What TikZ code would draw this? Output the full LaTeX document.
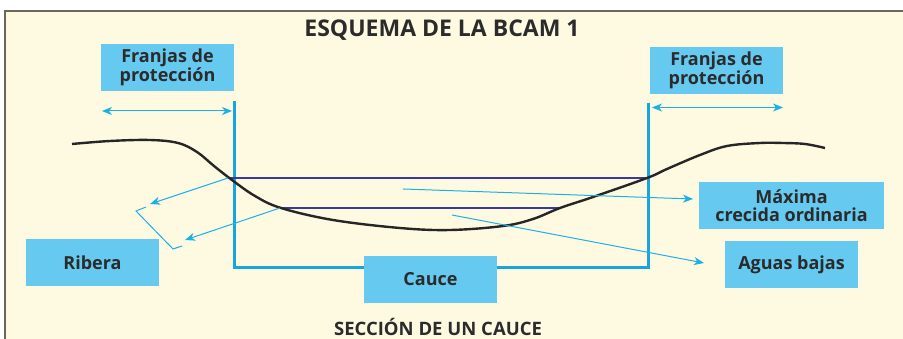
\documentclass[tikz,border=0pt]{standalone}
\usepackage{fontspec}
\setmainfont{Open Sans}
\usetikzlibrary{arrows.meta}
\definecolor{cream}{HTML}{FEFAE2}
\definecolor{framegray}{HTML}{6B6660}
\definecolor{boxblue}{HTML}{66C9F0}
\definecolor{cyanline}{HTML}{1BB1E4}
\definecolor{chanblue}{HTML}{17A6DC}
\definecolor{navyline}{HTML}{3A3A9C}
\definecolor{txt}{HTML}{2B2B2B}
\tikzset{
  labelbox/.style={fill=boxblue, minimum width=133pt, minimum height=47pt, inner sep=0pt,
    align=center, text=txt, font=\bfseries\fontsize{18}{18.5}\selectfont},
  pointer/.style={draw=cyanline, line width=1pt, -{Stealth[length=10pt,width=8pt,inset=3pt]}},
  span/.style={draw=cyanline, line width=1pt, {Stealth[length=10pt,width=8pt,inset=3pt]}-{Stealth[length=10pt,width=8pt,inset=3pt]}},
  channel/.style={draw=chanblue, line width=3pt},
  waterline/.style={draw=navyline, line width=1.2pt},
  bracket/.style={draw=cyanline, line width=1pt}
}
\begin{document}
\begin{tikzpicture}[x=1pt,y=-1pt]
\useasboundingbox (0,0) rectangle (903,339);
\fill[cream] (5,11) rectangle (903,339);
\draw[framegray, line width=2pt] (5,339) -- (5,11) -- (903,11);

\node[text=txt, font=\bfseries\fontsize{23}{26}\selectfont] (title) at (442,30) {ESQUEMA DE LA BCAM 1};
\node[text=txt, font=\bfseries\fontsize{18.5}{20}\selectfont] (foot) at (438,327) {SECCIÓN DE UN CAUCE};

% channel
\coordinate (cl) at (234,101);
\coordinate (cbl) at (234,268);
\coordinate (cbr) at (648,268);
\coordinate (cr) at (648,103);
\draw[channel] (cl) -- (cbl) -- (cbr) -- (cr);

% water lines
\coordinate (w1a) at (228,178);
\coordinate (w1b) at (648,178);
\coordinate (w2a) at (280,208);
\coordinate (w2b) at (560,208);
\draw[waterline] (w1a) -- (w1b);
\draw[waterline] (w2a) -- (w2b);

% ground
\draw[line width=2.4pt, draw=black!85] plot[smooth, tension=0.6] coordinates {
 (72,144) (110,141) (150,140) (178,143) (197,152) (214,166) (232,180) (255,196) (281,208)
 (333,220) (400,228) (450,230) (503,226) (533,219) (560,208) (593,197) (647,178) (667,169)
 (700,155) (727,146) (760,143) (783,143) (805,144) (825,148)};

% labels
\node[labelbox] (fl) at (167.5,67.5) {Franjas de\\protección};
\node[labelbox] (fr) at (716.5,70.5) {Franjas de\\protección};
\node[labelbox] (rib) at (92.5,262.5) {Ribera};
\node[labelbox] (cau) at (430.5,279.5) {Cauce};
\node[labelbox, minimum width=185pt] (max) at (791.5,205.5) {Máxima\\crecida ordinaria};
\node[labelbox] (agu) at (791.5,264.5) {Aguas bajas};

% spans
\coordinate (sl1) at (102,111);
\coordinate (sl2) at (232,111);
\coordinate (sr1) at (652,107.5);
\coordinate (sr2) at (783,107.5);
\draw[span] (sl1) -- (sl2);
\draw[span] (sr1) -- (sr2);

% pointers
\coordinate (p1) at (150,204);
\coordinate (p2) at (185,240);
\draw[pointer] (w1a) -- (p1);
\draw[pointer] (w2a) -- (p2);
\coordinate (m0) at (403,189);
\coordinate (m1) at (693,199);
\draw[pointer] (m0) -- (m1);
\coordinate (a0) at (452,215);
\coordinate (a1) at (704,263);
\draw[pointer] (a0) -- (a1);

% bracket
\coordinate (b1) at (146,207);
\coordinate (b2) at (136,211);
\coordinate (b3) at (173,249);
\coordinate (b4) at (182,246);
\draw[bracket] (b1) -- (b2) -- (b3) -- (b4);
\end{tikzpicture}
\end{document}
